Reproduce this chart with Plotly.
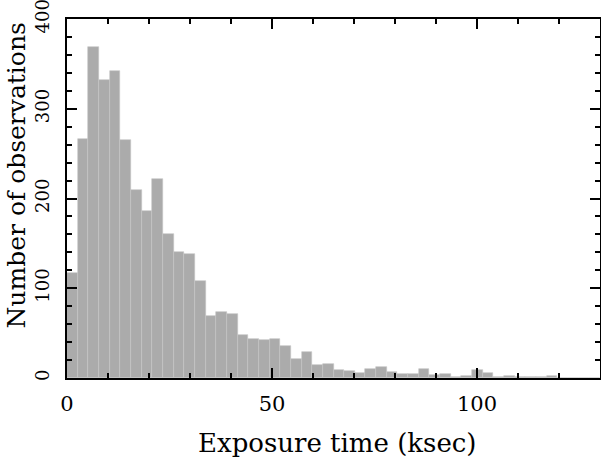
import plotly.graph_objects as go

bin_start = 0.0
bin_width = 2.6
counts = [117, 266, 369, 332, 342, 265, 210, 186, 222, 161,
          140, 138, 108, 69, 74, 71, 48, 44, 42, 44,
          36, 21, 29, 14, 16, 9, 8, 6, 10, 12,
          7, 5, 5, 10, 3, 5, 1, 2, 9, 6,
          1, 2, 1, 1, 1, 2, 0, 0, 0, 0]
x_ticks = [0, 50, 100]
y_ticks = [0, 100, 200, 300, 400]
x_title = "Exposure time (ksec)"
y_title = "Number of observations"

centers = [bin_start + bin_width * (i + 0.5) for i in range(len(counts))]

FONT = "DejaVu Serif"

fig = go.Figure(go.Bar(
    x=centers, y=counts, width=bin_width,
    marker=dict(color="#ababab", line=dict(color="#c4c4c4", width=0.6)),
))

fig.update_layout(
    width=601, height=458,
    margin=dict(l=67, r=1, t=19, b=80),
    plot_bgcolor="white", paper_bgcolor="white",
    bargap=0, showlegend=False,
    font=dict(family=FONT, size=21, color="black"),
)

fig.update_xaxes(
    range=[0, 130], tickvals=x_ticks, ticks="inside", ticklen=10, tickwidth=1.5,
    tickcolor="black", showline=True, linewidth=2, linecolor="black",
    mirror="allticks", showgrid=False, zeroline=False, automargin=False,
    minor=dict(dtick=10, ticks="inside", ticklen=5, tickwidth=1.5, tickcolor="black", showgrid=False),
    tickfont=dict(family=FONT, size=21), ticklabelstandoff=6, ticklabeloverflow="allow",
)
fig.update_yaxes(
    range=[0, 400], tickvals=y_ticks, ticks="inside", ticklen=10, tickwidth=1.5,
    tickcolor="black", showline=True, linewidth=2, linecolor="black",
    mirror="allticks", showgrid=False, zeroline=False, tickangle=-90, automargin=False,
    minor=dict(dtick=20, ticks="inside", ticklen=5, tickwidth=1.5, tickcolor="black", showgrid=False),
    tickfont=dict(family=FONT, size=18), ticklabelstandoff=9, ticklabeloverflow="allow",
)

fig.add_annotation(text=x_title, xref="paper", yref="paper", x=0.5, y=0,
                   xshift=4, yshift=-65, showarrow=False, xanchor="center", yanchor="middle",
                   font=dict(family=FONT, size=26))
fig.add_annotation(text=y_title, xref="paper", yref="paper", x=0, y=0.5,
                   xshift=-51, yshift=23, textangle=-90, showarrow=False,
                   xanchor="center", yanchor="middle",
                   font=dict(family=FONT, size=25))

fig.write_html("out.html", config={"displayModeBar": False},
               post_script="document.body.style.margin='0';document.body.style.padding='0';")
